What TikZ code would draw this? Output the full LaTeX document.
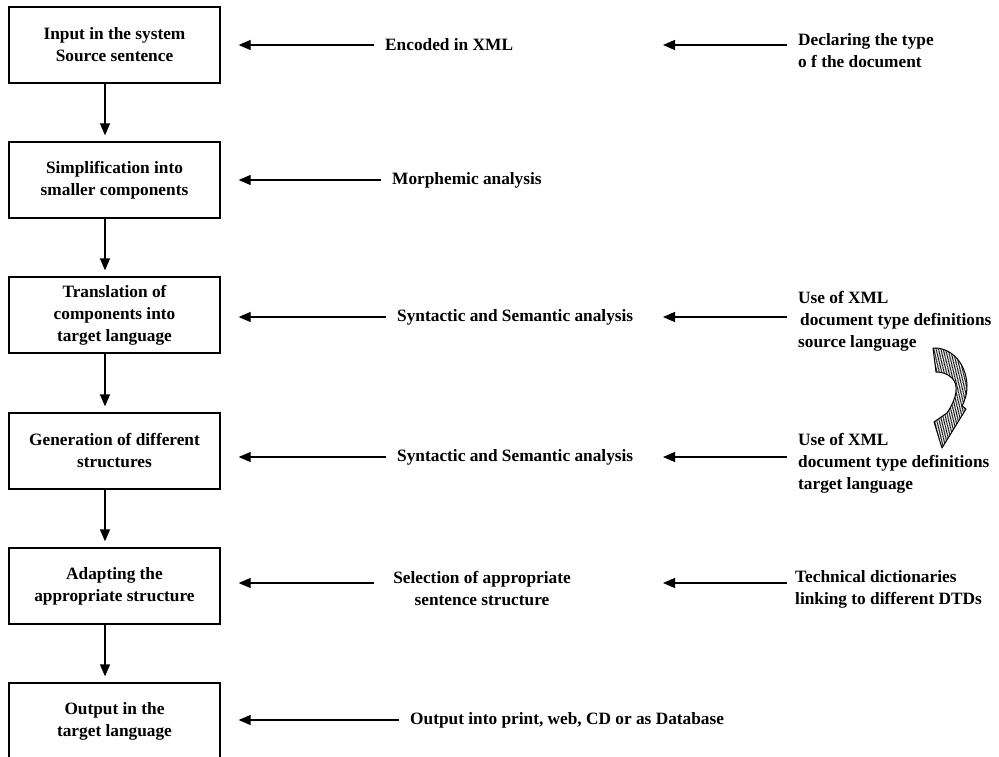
\documentclass[tikz,border=0pt]{standalone}
\usepackage{fontspec}
\setmainfont{Liberation Serif}
\usetikzlibrary{arrows.meta,patterns.meta}
\begin{document}
\begin{tikzpicture}[x=1pt,y=-1pt,
  every node/.style={font=\fontsize{17.3}{22}\selectfont\bfseries, inner sep=0pt},
  box/.style={draw, line width=1.3pt, minimum width=211pt, minimum height=76pt, align=center},
  lbl/.style={align=left, anchor=west},
  clbl/.style={align=center},
  arr/.style={line width=1.3pt, -{Triangle[length=12pt,width=10pt]}},
  harr/.style={arr, shorten <=11pt, shorten >=18pt},
  rarr/.style={arr, shorten <=11pt}]
\useasboundingbox (0,0) rectangle (999,757);
\clip (0,0) rectangle (999,757);

% boxes
\node[box] (b1) at (114.5,45) {Input in the system\\Source sentence};
\node[box] (b2) at (114.5,180) {Simplification into\\smaller components};
\node[box] (b3) at (114.5,315) {Translation of\\components into\\target language};
\node[box] (b4) at (114.5,451) {Generation of different\\structures};
\node[box] (b5) at (114.5,586) {Adapting the\\appropriate structure};
\node[box] (b6) at (114.5,721) {Output in the\\target language};

% vertical arrows
\foreach \a/\b in {b1/b2,b2/b3,b3/b4,b4/b5,b5/b6}
  \draw[arr, shorten >=6pt] ([xshift=-9.5pt]\a.south) -- ([xshift=-9.5pt]\b.north);

% middle texts
\node[lbl] (m1) at (385,45) {Encoded in XML};
\node[lbl] (m2) at (392,180) {Morphemic analysis};
\node[lbl] (m3) at (397,317) {Syntactic and Semantic analysis};
\node[lbl] (m4) at (397,457) {Syntactic and Semantic analysis};
\node[clbl] (m5) at (482,589) {Selection of appropriate\\sentence structure};
\node[lbl] (m6) at (410,720) {Output into print, web, CD or as Database};

% right texts
\node[lbl] (r1) at (798,51) {Declaring the type\\o f the document};
\node[lbl] (r3) at (798,321) {Use of XML\\\hspace{2pt}document type definitions\\source language};
\node[lbl] (r4) at (798,463) {Use of XML\\document type definitions\\target language};
\node[lbl] (r5) at (795,589) {Technical dictionaries\\linking to different DTDs};

% left arrows (text -> box)
\draw[harr] (m1.west) -- (m1.west -| b1.east);
\draw[harr] (m2.west) -- (m2.west -| b2.east);
\draw[harr] (m3.west) -- (m3.west -| b3.east);
\draw[harr] (m4.west) -- (m4.west -| b4.east);
\coordinate (s5) at (374,583);
\draw[harr, shorten <=0pt] (s5) -- (s5 -| b5.east);
\draw[harr] (m6.west) -- (m6.west -| b6.east);

% right arrows
\coordinate (t1) at (663,45);
\coordinate (t3) at (663,317);
\coordinate (t4) at (663,457);
\coordinate (t5) at (663,583);
\draw[rarr] (r1.west |- t1) -- (t1);
\draw[rarr] (r3.west |- t3) -- (t3);
\draw[rarr] (r4.west |- t4) -- (t4);
\draw[rarr, shorten <=8pt] (r5.west |- t5) -- (t5);

% curved hatched arrow
\draw[line width=1pt, line join=round,
      pattern={Lines[angle=80,distance=1.7pt,line width=0.7pt]}]
  (933,348) .. controls (950,347) and (966,362) .. (967,385)
  .. controls (967,395) and (965,400) .. (962,406)
  -- (966,409) -- (942,448) -- (934,422) -- (947,413)
  .. controls (957,398) and (959,385) .. (952,378)
  .. controls (947,373) and (940,372) .. (936,372) -- cycle;
\end{tikzpicture}
\end{document}
